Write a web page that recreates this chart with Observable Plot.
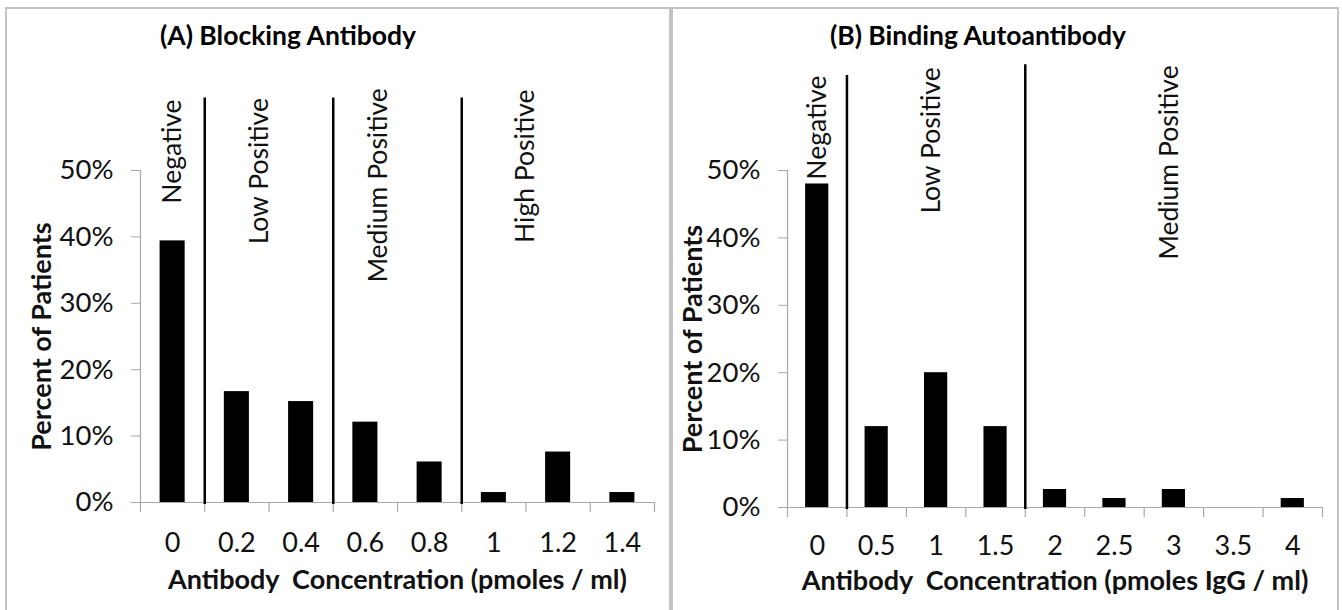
<!DOCTYPE html>
<html><head><meta charset="utf-8">
<script src="https://cdn.jsdelivr.net/npm/d3@7"></script>
<script src="https://cdn.jsdelivr.net/npm/@observablehq/plot@0.6"></script>
<style>
html,body{margin:0;padding:0;background:#fff;}
#wrap{position:relative;width:1342px;height:610px;overflow:hidden;background:#fff;font-family:Lato,sans-serif;}
.panel{position:absolute;top:7px;height:700px;border:2px solid #c3c3c3;box-sizing:border-box;}
.title{position:absolute;width:500px;text-align:center;font-weight:700;font-size:26.5px;line-height:26px;color:#000;white-space:pre;}
.plot{position:absolute;top:0;}
</style></head><body>
<div id="wrap">
  <div class="panel" style="left:5px;width:666px"></div>
  <div class="panel" style="left:671px;width:668px"></div>
  <div class="title" id="tA" style="left:38px;top:22px"></div>
  <div class="title" id="tB" style="left:728px;top:22px"></div>
</div>
<script>
// ---- data ----
const titleA = "(A) Blocking Antibody";
const catsA = [0, 0.2, 0.4, 0.6, 0.8, 1, 1.2, 1.4];
const pctA = [39.4, 16.7, 15.2, 12.1, 6.1, 1.5, 7.6, 1.5];
const cutsA = [0.1, 0.5, 0.9];
const zonesA = ["Negative", "Low Positive", "Medium Positive", "High Positive"];
const xLabelA = "Antibody\u00a0 Concentration (pmoles / ml)";

const titleB = "(B) Binding Autoantibody";
const catsB = [0, 0.5, 1, 1.5, 2, 2.5, 3, 3.5, 4];
const pctB = [48, 12, 20, 12, 2.67, 1.33, 2.67, 0, 1.33];
const cutsB = [0.25, 1.75];
const zonesB = ["Negative", "Low Positive", "Medium Positive"];
const xLabelB = "Antibody\u00a0 Concentration (pmoles IgG / ml)";

const yTicks = [0, 10, 20, 30, 40, 50];
const yLabel = "Percent of Patients";

// ---- annotation placement (data units: concentration, percent) ----
const zoneAtA = [0, 0.27, 0.64, 1.1];
const zoneTopA = [60.7, 60.9, 62.4, 62.2];
const cutTopA = [60.9, 60.9, 60.9];
const zoneAtB = [0, 0.96, 2.96];
const zoneTopB = [64.1, 65.3, 65.6];
const cutTopB = [64.1, 65.7];

const gray = "#a8a8a8";
const font = "Lato, sans-serif";

function panel(o) {
  const step = o.cats[1] - o.cats[0];
  const half = step * 0.195;
  const rows = o.cats.map((c, i) => ({c, p: o.pct[i]}));
  const bounds = [o.cats[0] - step / 2, ...o.cats.map(c => c + step / 2)];
  const xDomain = [bounds[0], bounds[bounds.length - 1]];
  const cutRows = o.cuts.map((x, i) => ({x, top: o.cutTop[i]}));
  const zoneRows = o.zones.map((t, i) => ({t, x: o.zoneAt[i], y: o.zoneTop[i]}));
  const chart = Plot.plot({
    width: o.width, height: 610,
    marginTop: 170, marginBottom: o.marginBottom, marginLeft: o.marginLeft, marginRight: o.marginRight,
    x: {domain: xDomain},
    y: {domain: [0, 50]},
    style: {fontFamily: font, background: "transparent", overflow: "visible", color: "#000"},
    marks: [
      Plot.ruleY([0], {stroke: gray, strokeWidth: 1.2}),
      Plot.ruleX([xDomain[0]], {y1: () => 0, y2: () => 50, stroke: gray, strokeWidth: 1.2}),
      Plot.ruleX(bounds, {y1: () => 0, y2: () => 0, insetBottom: -10, stroke: gray, strokeWidth: 1.2}),
      Plot.rectY(rows, {x1: d => d.c - half, x2: d => d.c + half, y: "p", fill: "#000"}),
      Plot.ruleX(cutRows, {x: "x", y1: () => 0, y2: "top", insetTop: 2, stroke: "#000", strokeWidth: 2.5}),
      Plot.axisY({ticks: yTicks, tickSize: 9, tickPadding: 18, tickFormat: d => d + "%", fontSize: 27.5, stroke: gray, fill: "#111", label: null}),
      Plot.axisX({ticks: o.cats, tickSize: 0, tickPadding: o.tickPad, tickFormat: d => String(d), fontSize: 27, fill: "#111", label: null}),
      Plot.text(zoneRows, {x: "x", y: "y", text: "t", rotate: -90, textAnchor: "end", lineAnchor: "middle", fontSize: 26.5, fill: "#111"}),
      Plot.text([yLabel], {text: d => d, frameAnchor: "left", dx: o.yTitleDx, rotate: -90, textAnchor: "middle", lineAnchor: "middle", fontWeight: "bold", fontSize: 27, fill: "#111"}),
      Plot.text([o.xLabel], {text: d => d, frameAnchor: "bottom", dy: o.xTitleDy, textAnchor: "middle", lineAnchor: "middle", fontWeight: "bold", fontSize: 27, fill: "#111"})
    ]
  });
  chart.classList.add("plot");
  chart.style.left = o.left + "px";
  return chart;
}

const wrap = document.getElementById("wrap");
document.getElementById("tA").textContent = titleA;
document.getElementById("tB").textContent = titleB;

wrap.appendChild(panel({
  cats: catsA, pct: pctA, cuts: cutsA, cutTop: cutTopA, zones: zonesA, zoneAt: zoneAtA, zoneTop: zoneTopA,
  xLabel: xLabelA, left: 0, width: 672, marginLeft: 140, marginRight: 18, marginBottom: 108,
  tickPad: 30, yTitleDx: -98, xTitleDy: 78
}));
wrap.appendChild(panel({
  cats: catsB, pct: pctB, cuts: cutsB, cutTop: cutTopB, zones: zonesB, zoneAt: zoneAtB, zoneTop: zoneTopB,
  xLabel: xLabelB, left: 671, width: 671, marginLeft: 116, marginRight: 20, marginBottom: 103,
  tickPad: 28, yTitleDx: -94, xTitleDy: 74
}));
</script>
</body></html>
